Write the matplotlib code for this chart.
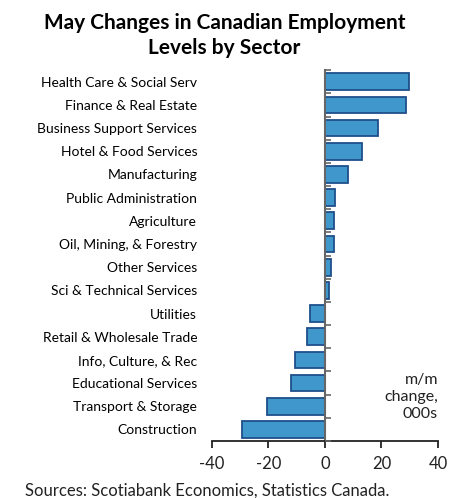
import matplotlib.pyplot as plt
import numpy as np

plt.rcParams['font.family'] = ['Lato', 'DejaVu Sans']

sectors = ["Health Care & Social Serv", "Finance & Real Estate", "Business Support Services",
           "Hotel & Food Services", "Manufacturing", "Public Administration", "Agriculture",
           "Oil, Mining, & Forestry", "Other Services", "Sci & Technical Services", "Utilities",
           "Retail & Wholesale Trade", "Info, Culture, & Rec", "Educational Services",
           "Transport & Storage", "Construction"]
change = [29.6, 28.7, 18.8, 13.0, 8.1, 3.5, 3.3, 3.1, 2.3, 1.3, -5.4, -6.3, -10.7, -12.0, -20.5, -29.5]
xticks = [-40, -20, 0, 20, 40]

fig = plt.figure(figsize=(4.49, 4.98), dpi=100)
ax = fig.add_axes([0.472, 0.1145, 0.5035, 0.7445])

y = np.arange(len(sectors))
ax.barh(y, change, height=0.72, color='#3f97cb', edgecolor='#1f4f8a', linewidth=1.3)
ax.set_ylim(len(sectors) - 0.5, -0.5)
ax.set_xlim(-40, 40)

# labels hang off the zero spine, so pad pushes them back to the left edge
ax.tick_params(axis='y', length=0, pad=92)
# little ticks between categories on the zero line
ax.set_yticks(np.arange(-0.5, len(sectors), 1), minor=True)
ax.tick_params(axis='y', which='minor', length=4, direction='in', color='#666666', width=1.2)
ax.set_yticks(y)
ax.set_yticklabels(sectors, fontsize=11.1, fontfamily='Open Sans', color='#222222')

ax.tick_params(axis='x', length=5, width=1.3, color='#222222', pad=6)
ax.set_xticks(xticks)
ax.set_xticklabels([str(t) for t in xticks], fontsize=12, color='#222222')

ax.spines['left'].set_position(('data', 0))
ax.spines['left'].set_color('#666666')
ax.spines['left'].set_linewidth(1.5)
ax.spines['bottom'].set_color('#222222')
ax.spines['bottom'].set_linewidth(1.3)
ax.spines['right'].set_visible(False)
ax.spines['top'].set_visible(False)
ax.set_axisbelow(False)

ax.text(40, 13.6, "m/m\nchange,\n000s", ha='right', va='center', fontsize=11.5,
        color='#222222', linespacing=1.3)

fig.text(0.5, 0.929, "May Changes in Canadian Employment\nLevels by Sector", ha='center',
         va='center', fontsize=15, fontweight='bold', linespacing=1.35)
fig.text(0.055, 0.014, "Sources: Scotiabank Economics, Statistics Canada.", fontsize=12,
         color='#222222', va='center')

fig.savefig('out.png', dpi=100)
